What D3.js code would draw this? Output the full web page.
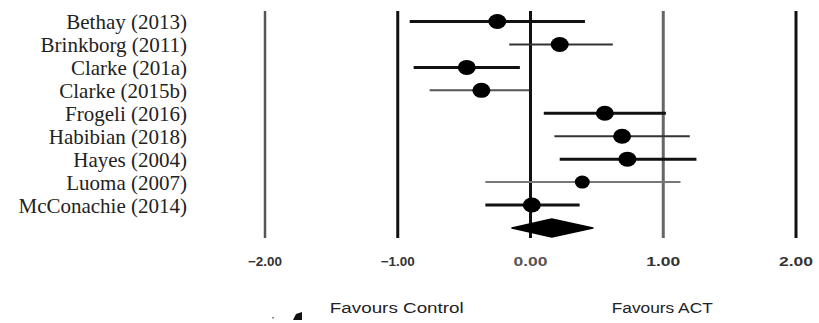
<!DOCTYPE html>
<html>
<head>
<meta charset="utf-8">
<script src="https://cdn.jsdelivr.net/npm/d3@7"></script>
<style>
  body { margin: 0; background: #fff; }
  svg { display: block; }
</style>
</head>
<body>
<svg id="plot"></svg>
<script>
// study effect sizes (Hedges g) with 95% CI
var studies = ["Bethay (2013)", "Brinkborg (2011)", "Clarke (201a)", "Clarke (2015b)",
               "Frogeli (2016)", "Habibian (2018)", "Hayes (2004)", "Luoma (2007)",
               "McConachie (2014)"];
var effect = [-0.25, 0.22, -0.48, -0.37, 0.56, 0.69, 0.73, 0.39, 0.01];
var lower  = [-0.91, -0.16, -0.88, -0.76, 0.10, 0.18, 0.22, -0.34, -0.34];
var upper  = [0.41, 0.62, -0.08, -0.01, 1.02, 1.20, 1.25, 1.13, 0.37];

// pooled estimate
var pooled = [-0.14, 0.16, 0.47];

var ticks = [-2, -1, 0, 1, 2];
var sideLabels = ["Favours Control", "Favours ACT"];
var sidePos = [-1, 1];

var W = 819, H = 323;
var svg = d3.select("#plot").attr("width", W).attr("height", H);

var x = d3.scaleLinear().domain([-2, 2]).range([265, 796]);
var y = d3.scalePoint().domain(studies.concat(["pooled"])).range([21.5, 228]);

var rows = studies.map(function(s, i) {
  return {name: s, es: effect[i], lo: lower[i], hi: upper[i]};
});

// studies drawn with the lighter / thinner line in the original
var thin = {"Brinkborg (2011)": "#333", "Clarke (2015b)": "#555",
            "Habibian (2018)": "#333", "Luoma (2007)": "#777"};

// vertical reference lines
var lineColor = {"-2": "#555", "-1": "#111", "0": "#111", "1": "#666", "2": "#111"};
svg.append("g").selectAll("line")
  .data(ticks).enter().append("line")
  .attr("x1", function(d) { return x(d); })
  .attr("x2", function(d) { return x(d); })
  .attr("y1", 11).attr("y2", 238)
  .style("stroke", function(d) { return lineColor[d]; })
  .style("stroke-width", function(d) { return d === -2 ? 2.5 : 3; });

// confidence intervals
var g = svg.append("g");
g.selectAll("line.ci")
  .data(rows).enter().append("line")
  .attr("class", "ci")
  .attr("x1", function(d) { return x(d.lo); })
  .attr("x2", function(d) { return x(d.hi); })
  .attr("y1", function(d) { return y(d.name); })
  .attr("y2", function(d) { return y(d.name); })
  .style("stroke", function(d) { return thin[d.name] || "#111"; })
  .style("stroke-width", function(d) { return thin[d.name] ? 2 : 3; });

// point estimates
g.selectAll("ellipse")
  .data(rows).enter().append("ellipse")
  .attr("cx", function(d) { return x(d.es); })
  .attr("cy", function(d) { return y(d.name); })
  .attr("rx", function(d) { return d.name === "Luoma (2007)" ? 7.5 : 9; })
  .attr("ry", function(d) { return d.name === "Luoma (2007)" ? 6.5 : 7.5; })
  .style("fill", "#000");

// pooled diamond
var py = y("pooled");
svg.append("path")
  .attr("d", "M" + x(pooled[0]) + "," + py +
             "L" + x(pooled[1]) + "," + (py - 9) +
             "L" + x(pooled[2]) + "," + py +
             "L" + x(pooled[1]) + "," + (py + 9) + "Z")
  .style("fill", "#000").style("stroke", "#000").style("stroke-width", 1.5)
  .style("stroke-linejoin", "round");

// study labels
svg.append("g").selectAll("text")
  .data(rows).enter().append("text")
  .attr("x", 187)
  .attr("y", function(d) { return y(d.name) + 7.5; })
  .attr("text-anchor", "end")
  .style("font-family", "'Liberation Serif', 'Times New Roman', serif")
  .style("font-size", "21px")
  .style("fill", "#222")
  .text(function(d) { return d.name; });

// tick labels
svg.append("g").selectAll("text")
  .data(ticks).enter().append("text")
  .attr("x", function(d) { return x(d); })
  .attr("y", 266)
  .attr("text-anchor", "middle")
  .attr("textLength", 34)
  .attr("lengthAdjust", "spacingAndGlyphs")
  .style("font-family", "'Liberation Sans', Arial, sans-serif")
  .style("font-size", "13px")
  .style("font-weight", "bold")
  .style("fill", function(d) { return d === 0 ? "#555" : "#333"; })
  .text(function(d) { return d3.format(".2f")(d); });

// favours labels
svg.append("g").selectAll("text")
  .data(sideLabels).enter().append("text")
  .attr("x", function(d, i) { return x(sidePos[i]) - 1; })
  .attr("y", 313)
  .attr("text-anchor", "middle")
  .attr("textLength", function(d, i) { return i === 0 ? 134 : 101; })
  .attr("lengthAdjust", "spacingAndGlyphs")
  .style("font-family", "'Liberation Sans', Arial, sans-serif")
  .style("font-size", "14px")
  .style("fill", "#222")
  .text(function(d) { return d; });

// small stray marks left at the bottom of the original figure
svg.append("path")
  .attr("d", "M293,320L296,314L302,312L302,320Z")
  .style("fill", "#111");
svg.append("rect")
  .attr("x", 272).attr("y", 317).attr("width", 2).attr("height", 1.5)
  .style("fill", "#888");
</script>
</body>
</html>
